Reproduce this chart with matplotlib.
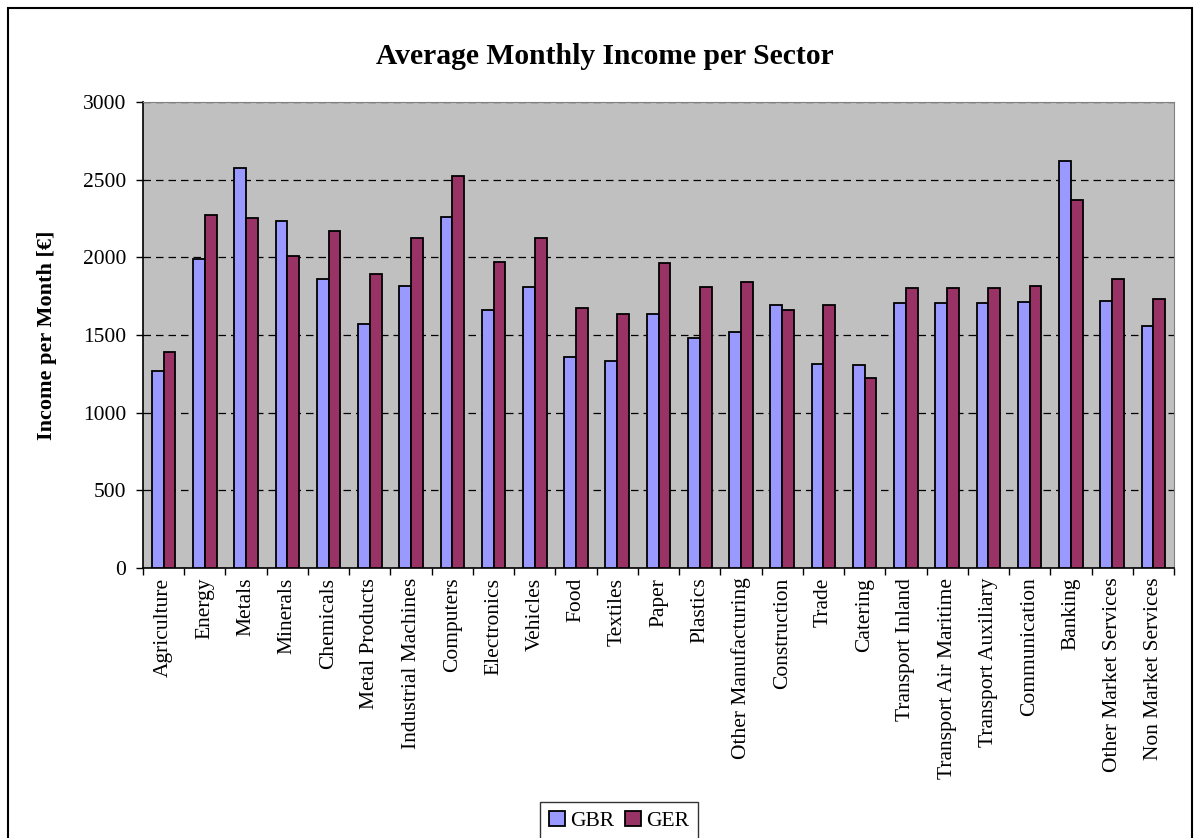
import numpy as np
import matplotlib
matplotlib.use("Agg")
import matplotlib.pyplot as plt
from matplotlib.patches import Rectangle

sectors = ["Agriculture", "Energy", "Metals", "Minerals", "Chemicals",
           "Metal Products", "Industrial Machines", "Computers", "Electronics",
           "Vehicles", "Food", "Textiles", "Paper", "Plastics",
           "Other Manufacturing", "Construction", "Trade", "Catering",
           "Transport Inland", "Transport Air Maritime", "Transport Auxiliary",
           "Communication", "Banking", "Other Market Services",
           "Non Market Services"]
gbr = [1269, 1991, 2577, 2234, 1862, 1574, 1814, 2259, 1658, 1806, 1361,
       1333, 1638, 1481, 1518, 1694, 1316, 1305, 1703, 1703, 1703, 1711,
       2620, 1722, 1557]
ger = [1389, 2270, 2251, 2010, 2167, 1890, 2122, 2521, 1973, 2122, 1677,
       1638, 1963, 1806, 1842, 1658, 1694, 1221, 1804, 1804, 1804, 1814,
       2371, 1862, 1733]

plt.rcParams['font.family'] = ['Liberation Serif', 'DejaVu Serif']

W, H = 1194, 838
fig = plt.figure(figsize=(W / 100, H / 100), dpi=100)
ax = fig.add_axes([143 / W, 1 - 568 / H, (1174 - 143) / W, (568 - 102) / H])

x = np.arange(len(sectors))
bw = 2 / 7.0
ax.bar(x - bw / 2, gbr, bw, color='#9999FF', edgecolor='black', linewidth=1.3, label='GBR', zorder=3)
ax.bar(x + bw / 2, ger, bw, color='#993366', edgecolor='black', linewidth=1.3, label='GER', zorder=3)

ax.set_facecolor('#C0C0C0')
ax.set_xlim(-0.5, len(sectors) - 0.5)
ax.set_ylim(0, 3000)
ax.set_yticks(range(0, 3001, 500))
ax.yaxis.grid(True, linestyle=(0, (6, 4)), color='black', linewidth=0.9, zorder=0)
ax.set_axisbelow(True)

ax.set_xticks(x)
ax.set_xticklabels(sectors, rotation=90, fontsize=15.5)
ax.set_xticks(np.arange(-0.5, len(sectors)), minor=True)
ax.tick_params(axis='x', which='major', length=0, pad=7)
ax.tick_params(axis='x', which='minor', length=5, width=1, direction='out')
ax.tick_params(axis='y', labelsize=15.5, length=5, width=1, direction='out', pad=7)

for s in ['top', 'right']:
    ax.spines[s].set_color('#808080')
for s in ['left', 'bottom']:
    ax.spines[s].set_color('black')
    ax.spines[s].set_linewidth(1.2)

ax.set_ylabel('Income per Month [€]', fontsize=16, fontweight='bold', labelpad=19)
fig.text(605 / W, 1 - 56 / H, 'Average Monthly Income per Sector',
         ha='center', va='center', fontsize=21.3, fontweight='bold')

leg = fig.legend(loc='upper center', bbox_to_anchor=(619 / W, 1 - 802 / H),
                 ncol=2, fontsize=15.5, frameon=True, fancybox=False,
                 handlelength=0.75, handleheight=0.75, handletextpad=0.25,
                 columnspacing=0.5, borderpad=0.4, borderaxespad=0)
leg.get_frame().set_edgecolor('black')
leg.get_frame().set_linewidth(1)

fig.patches.append(Rectangle((8 / W, -0.05), (1192 - 8) / W, 1.05 - 8 / H,
                             transform=fig.transFigure, fill=False,
                             edgecolor='black', linewidth=1.5))

fig.savefig('out.png', dpi=100)
